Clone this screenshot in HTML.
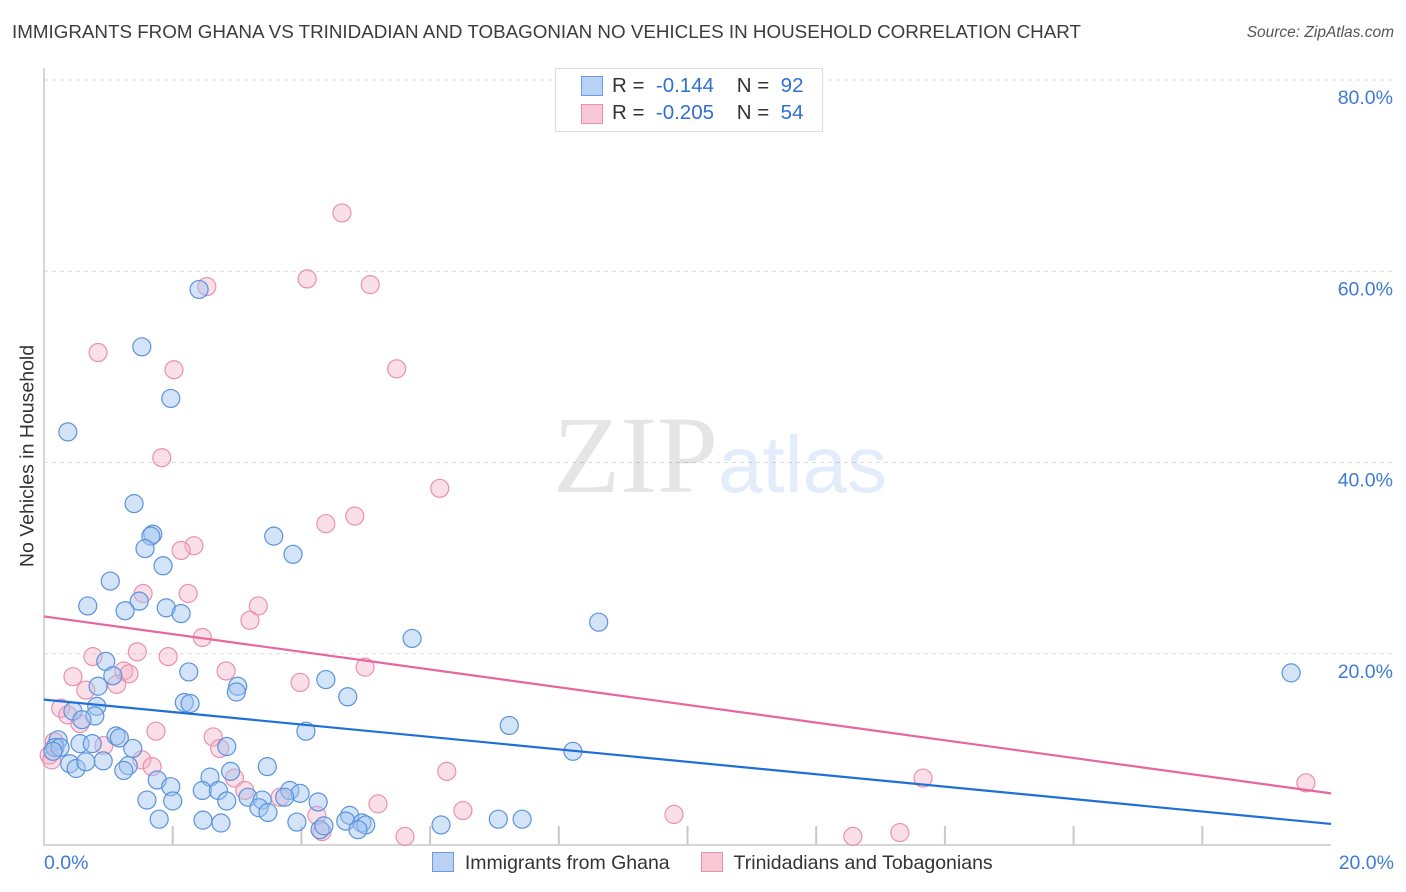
<!DOCTYPE html>
<html><head><meta charset="utf-8"><style>
body{margin:0;background:#fff;font-family:"Liberation Sans",sans-serif}
#wrap{position:relative;width:1406px;height:892px;overflow:hidden}
</style></head><body>
<div id="wrap">
<svg id="chart" width="1406" height="892"></svg>
</div>
<script>
const blueX=[2.41,1.52,1.97,0.37,1.40,1.69,1.66,1.57,3.57,3.87,1.85,1.03,1.48,0.68,1.26,1.90,2.13,8.62,5.72,19.38,0.96,2.25,4.38,1.07,0.84,3.01,2.99,4.72,2.18,2.27,0.82,0.45,0.79,0.59,7.23,4.07,1.12,1.17,0.22,0.56,0.75,1.38,2.84,0.17,0.25,0.14,8.22,0.92,1.31,0.40,0.50,0.65,1.24,3.47,2.90,2.58,1.76,1.97,2.46,2.71,3.82,3.98,3.17,1.60,2.00,2.84,3.39,3.74,4.26,3.34,3.48,4.75,1.79,2.47,2.75,3.93,4.69,4.94,5.00,4.29,4.35,4.88,6.17,7.06,7.43];
const blueY=[58.1,52.1,46.7,43.2,35.7,32.5,32.3,31.0,32.3,30.4,29.2,27.6,25.5,25.0,24.5,24.8,24.2,23.3,21.6,18.0,19.2,18.1,17.3,17.7,16.6,16.6,16.0,15.5,14.9,14.8,14.5,14.0,13.5,13.1,12.5,11.9,11.4,11.2,11.0,10.6,10.6,10.1,10.3,10.2,10.2,9.8,9.8,8.8,8.3,8.5,8.0,8.7,7.8,8.2,7.7,7.1,6.8,6.1,5.7,5.7,5.7,5.4,5.0,4.7,4.6,4.6,4.7,5.0,4.5,3.9,3.4,3.1,2.7,2.6,2.3,2.4,2.5,2.3,2.1,1.6,2.0,1.6,2.1,2.7,2.7];
const pinkX=[4.63,4.09,5.07,2.53,0.84,2.02,5.48,1.83,6.15,4.83,4.38,2.33,2.13,1.54,2.24,3.33,3.20,2.46,1.45,1.93,0.76,4.99,2.83,1.24,1.32,0.45,3.98,1.13,0.65,0.26,0.37,0.56,1.74,2.63,0.16,0.93,2.73,0.08,0.12,1.52,1.68,2.96,6.26,13.66,19.61,3.12,3.67,5.19,6.51,4.24,9.79,4.32,5.61,12.57,13.30];
const pinkY=[66.1,59.2,58.6,58.4,51.5,49.7,49.8,40.5,37.3,34.4,33.6,31.3,30.8,26.3,26.3,25.0,23.5,21.7,20.2,19.7,19.7,18.6,18.2,18.2,17.9,17.6,17.0,16.8,16.2,14.3,13.6,12.7,11.9,11.3,10.8,10.4,10.1,9.4,8.9,8.9,8.2,7.0,7.7,7.0,6.5,5.7,5.0,4.3,3.6,3.1,3.2,1.4,0.9,0.9,1.3];
const blueLine=[15.2,2.2];
const pinkLine=[23.9,5.4];
const yTicks=[20,40,60,80];
const yTickLabels=["20.0%","40.0%","60.0%","80.0%"];
const xTicks=[2,4,6,8,10,12,14,16,18];

const X0=44,X1=1331,Y0=845,Y80=80;
const sx=v=>X0+(X1-X0)*v/20;
const sy=v=>Y0-(Y0-Y80)*v/80;
const NS="http://www.w3.org/2000/svg";
const svg=document.getElementById('chart');
function mk(tag,attrs,parent){const e=document.createElementNS(NS,tag);for(const k in attrs)e.setAttribute(k,attrs[k]);(parent||svg).appendChild(e);return e;}

yTicks.forEach((t,i)=>{
 const g=mk('line',{x1:X0,x2:1395,y1:sy(t),y2:sy(t),stroke:'#dcdcdc','stroke-dasharray':'4,4'});
 
 
 const tx=mk('text',{x:1393,y:sy(t)+24,'text-anchor':'end','font-size':19.5,fill:'#3f7bd6'});
 tx.textContent=yTickLabels[i];
 
 
});
xTicks.forEach(t=>{
 const l=mk('line',{x1:sx(t),x2:sx(t),y1:Y0,y2:826,stroke:'#c8c8c8','stroke-width':2});
 
 
});
const ax=mk('path',{d:`M${X0},68 V${Y0} H${X1}`,fill:'none',stroke:'#c8c8c8','stroke-width':1.5});



function pts(xs,ys,fill,stroke,name){
 xs.forEach((x,i)=>{
  const c=mk('circle',{cx:sx(x),cy:sy(ys[i]),r:9,fill:fill,stroke:stroke,'stroke-width':1.2});
  
  
 });
}
pts(pinkX,pinkY,'rgba(245,175,198,0.4)','#e990b0','pink-point');
pts(blueX,blueY,'rgba(160,195,240,0.45)','#5a92dc','blue-point');
const bl=mk('line',{x1:sx(0),y1:sy(blueLine[0]),x2:sx(20),y2:sy(blueLine[1]),stroke:'#1f6fd6','stroke-width':2.2});


const pl=mk('line',{x1:sx(0),y1:sy(pinkLine[0]),x2:sx(20),y2:sy(pinkLine[1]),stroke:'#e8679a','stroke-width':2.2});


</script>
<div style="position:absolute;left:12px;top:21px;font-size:18.8px;color:#3c3c3c;white-space:nowrap">IMMIGRANTS FROM GHANA VS TRINIDADIAN AND TOBAGONIAN NO VEHICLES IN HOUSEHOLD CORRELATION CHART</div>
<div style="position:absolute;right:12px;top:24px;font-size:15.5px;color:#555;font-style:italic">Source: ZipAtlas.com</div>
<div style="position:absolute;left:553px;top:392px;font-size:110px;color:rgba(0,0,0,0.1);font-family:'Liberation Serif',serif;white-space:nowrap">ZIP<span style="font-family:'Liberation Sans',sans-serif;color:rgba(70,130,220,0.15);font-size:80px">atlas</span></div>
<div style="position:absolute;left:28px;top:456px;transform:translate(-50%,-50%) rotate(-90deg);font-size:19.5px;color:#333;white-space:nowrap">No Vehicles in Household</div>
<div style="position:absolute;left:44px;top:852px;font-size:19.5px;color:#3f7bd6">0.0%</div>
<div style="position:absolute;right:12px;top:852px;font-size:19.5px;color:#3f7bd6">20.0%</div>
<div style="position:absolute;left:555px;top:68px;width:266px;height:62px;border:1px solid #ddd;background:#fff;font-size:20.5px;color:#333;white-space:nowrap">
 <div style="position:absolute;left:25px;top:7px;width:20px;height:18px;background:#b9d2f4;border:1px solid #6d9be0"></div>
 <div style="position:absolute;left:56px;top:5px">R = &nbsp;<span style="color:#2f6fd6">-0.144</span>&nbsp;&nbsp;&nbsp; N = &nbsp;<span style="color:#2f6fd6">92</span></div>
 <div style="position:absolute;left:25px;top:35px;width:20px;height:18px;background:#f8c8d6;border:1px solid #e890b0"></div>
 <div style="position:absolute;left:56px;top:32px">R = &nbsp;<span style="color:#2f6fd6">-0.205</span>&nbsp;&nbsp;&nbsp; N = &nbsp;<span style="color:#2f6fd6">54</span></div>
</div>
<div style="position:absolute;left:432px;top:852px;font-size:19.5px;color:#333;white-space:nowrap">
 <span><span style="display:inline-block;width:20px;height:18px;background:#b9d2f4;border:1px solid #6d9be0;vertical-align:-3px"></span>&nbsp; Immigrants from Ghana</span>
 <span style="margin-left:26px"><span style="display:inline-block;width:20px;height:18px;background:#f8c8d6;border:1px solid #e890b0;vertical-align:-3px"></span>&nbsp; Trinidadians and Tobagonians</span>
</div>
</body></html>
